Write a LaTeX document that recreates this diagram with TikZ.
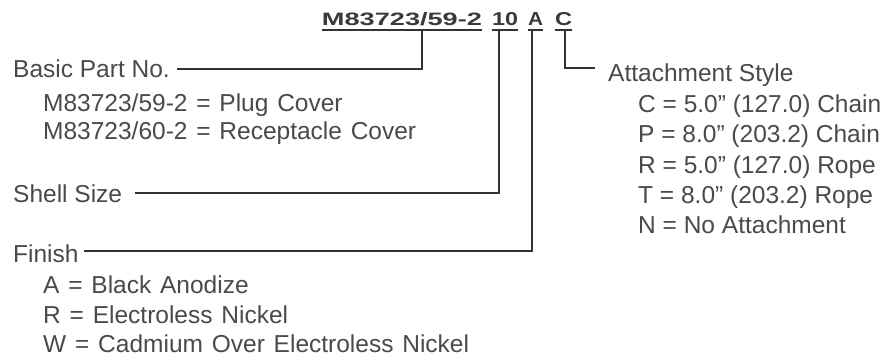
\documentclass[tikz,border=0pt]{standalone}
\usepackage{fontspec}
\setmainfont{Liberation Sans}
\usetikzlibrary{calc}
\definecolor{txt}{HTML}{4A4A4A}
\definecolor{ttlc}{HTML}{3A3A3A}
\definecolor{ln}{HTML}{333333}
\newcommand{\inchq}{\symbol{34}}
\newcommand{\widesp}{\spaceskip=8.8pt plus 2pt minus 2pt\relax}
\begin{document}
\begin{tikzpicture}[x=1pt,y=-1pt,
  lbl/.style={anchor=base west, inner sep=0pt, text=txt, font=\fontsize{24.5}{28}\selectfont},
  ttl/.style={anchor=base, inner sep=0pt, text=ttlc, font=\fontsize{18}{20}\selectfont\bfseries},
  conn/.style={draw=ln, line width=2pt},
  uline/.style={draw=ln, line width=1.5pt}]
\fill[white] (0,0) rectangle (893,358);
\useasboundingbox (0,0) rectangle (893,358);

% title segments
\node[ttl] (t1) at (402,26) {\resizebox{160pt}{13pt}{M83723/59-2}};
\node[ttl] (t2) at (505,26) {\resizebox{26pt}{13pt}{10}};
\node[ttl] (t3) at (535.5,26) {\resizebox{15pt}{13pt}{A}};
\node[ttl] (t4) at (563.5,26) {\resizebox{17pt}{13pt}{C}};
\foreach \t in {t1,t2,t3,t4}
  \draw[uline] ([yshift=-4pt]\t.base west) -- ([yshift=-4pt]\t.base east);

\coordinate (u1) at (422,30);
\coordinate (u2) at (499,30);
\coordinate (u3) at (532,30);
\coordinate (u4) at (565,30);

% left column
\node[lbl] (basic) at (13,78) {Basic Part No.};
\node[lbl] (p1) at (43,112) {\widesp M83723/59-2 = Plug Cover};
\node[lbl] (p2) at (43,140) {\widesp M83723/60-2 = Receptacle Cover};
\node[lbl] (shell) at (13,202) {Shell Size};
\node[lbl] (finish) at (13,262) {Finish};
\node[lbl] (f1) at (43,293) {\widesp A = Black Anodize};
\node[lbl] (f2) at (43,323) {\widesp R = Electroless Nickel};
\node[lbl] (f3) at (43,352) {\widesp W = Cadmium Over Electroless Nickel};

% right column
\node[lbl] (attach) at (608,82) {Attachment Style};
\node[lbl] (a1) at (638,113) {C = 5.0\inchq{} (127.0) Chain};
\node[lbl] (a2) at (638,143) {P = 8.0\inchq{} (203.2) Chain};
\node[lbl] (a3) at (638,173) {R = 5.0\inchq{} (127.0) Rope};
\node[lbl] (a4) at (638,203) {T = 8.0\inchq{} (203.2) Rope};
\node[lbl] (a5) at (638,233) {N = No Attachment};

% connectors
\draw[conn] ([xshift=7pt]basic.east) -| (u1);
\draw[conn] ([xshift=13pt]shell.east) -| (u2);
\draw[conn] ([xshift=5pt,yshift=2pt]finish.east) -| (u3);
\coordinate (cend) at (595,68);
\draw[conn] (u4) |- (cend);
\end{tikzpicture}
\end{document}
